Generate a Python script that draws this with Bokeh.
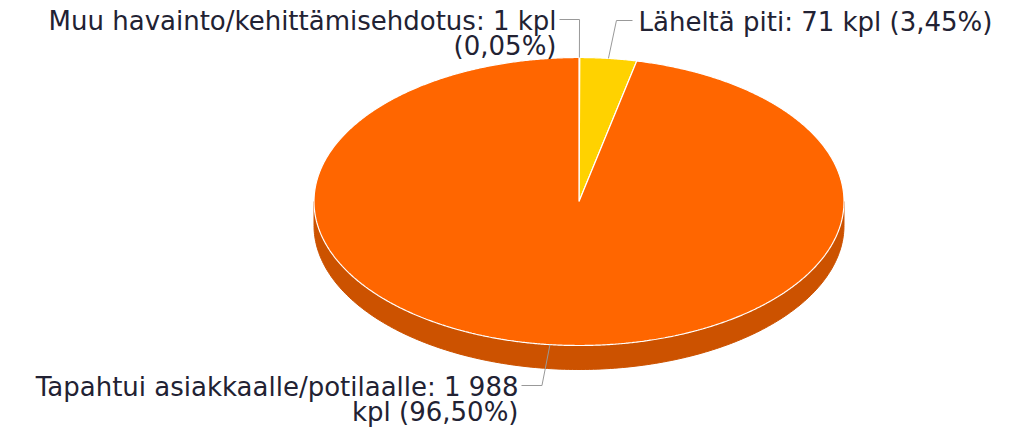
import textwrap
import numpy as np
from bokeh.plotting import figure
from bokeh.models import Range1d, ColumnDataSource
from bokeh.core.properties import value
from bokeh.embed import file_html
from bokeh.resources import INLINE

# ---- data ----
categories = ["Muu havainto/kehittämisehdotus", "Läheltä piti", "Tapahtui asiakkaalle/potilaalle"]
counts = [1, 71, 1988]
top_colors = ["#7CB5EC", "#FFD200", "#FF6600"]
side_colors = ["#6391BD", "#CCA800", "#CC5200"]

# ---- layout / style ----
W, H = 1018, 427
CX, CY, RX, RY, DEPTH = 578.5, 201.0, 265.0, 144.0, 24.0
FONT = "DejaVu Sans"
FSIZE = 26
LINE_H = 25
# label text anchor (x of text edge, vertical middle of first line, alignment)
label_layout = [
    (556, 20, "right"),
    (638, 21, "left"),
    (518, 386, "right"),
]

p = figure(width=W, height=H, x_range=Range1d(0, W), y_range=Range1d(H, 0),
           output_backend="svg", toolbar_location=None, min_border=0,
           x_axis_location=None, y_axis_location=None)
p.grid.visible = False
p.outline_line_color = None
p.background_fill_color = "white"


def pt(theta_deg, dy=0.0):
    t = np.radians(theta_deg)
    return CX + RX * np.sin(t), CY - RY * np.cos(t) + dy


total = float(sum(counts))
fracs = [c / total for c in counts]
ends = np.cumsum(fracs) * 360.0
starts = np.concatenate([[0.0], ends[:-1]])

# ---- side walls (front half only: 90..270 deg) ----
side_xs, side_ys, side_cols = [], [], []
for a, b, col in zip(starts, ends, side_colors):
    lo, hi = max(a, 90.0), min(b, 270.0)
    if hi <= lo:
        continue
    th = np.linspace(lo, hi, 200)
    tx, ty = pt(th)
    bx, by = pt(th[::-1], DEPTH)
    side_xs.append(list(np.concatenate([tx, bx])))
    side_ys.append(list(np.concatenate([ty, by])))
    side_cols.append(col)
p.patches(side_xs, side_ys, fill_color=side_cols, line_color=side_cols, line_width=1)

# ---- top faces ----
top_xs, top_ys = [], []
for a, b in zip(starts, ends):
    n = max(4, int((b - a) * 3))
    th = np.linspace(a, b, n)
    ex, ey = pt(th)
    top_xs.append([CX] + list(ex))
    top_ys.append([CY] + list(ey))
p.patches(top_xs, top_ys, fill_color=top_colors, line_color="white", line_width=1.2)


# ---- labels & connectors ----
def fmt_int(n):
    return f"{n:,}".replace(",", " ")


def fmt_pct(f):
    return f"{f * 100:.2f}".replace(".", ",")


tx_, ty_, tt_, ta_ = [], [], [], []
cxs, cys = [], []
for i, (name, c, f) in enumerate(zip(categories, counts, fracs)):
    label = f"{name}: {fmt_int(c)} kpl ({fmt_pct(f)}%)"
    lines = textwrap.wrap(label, width=38)
    lx, ly, align = label_layout[i]
    for k, line in enumerate(lines):
        tx_.append(lx)
        ty_.append(ly + k * LINE_H)
        tt_.append(line)
        ta_.append(align)
    mid = (starts[i] + ends[i]) / 2.0
    axp, ayp = pt(mid)
    drift = float(np.clip(75 * np.sin(np.radians(mid)), -8, 8))
    elbow_y = ly - 1
    ex = axp + drift
    end_x = lx + (3 if align == "right" else -6)
    cxs.append([axp, ex, end_x])
    cys.append([ayp, elbow_y, elbow_y])

p.multi_line(cxs, cys, line_color="#999999", line_width=1)
src = ColumnDataSource(dict(x=tx_, y=ty_, text=tt_, align=ta_))
p.text(x="x", y="y", text="text", text_align="align", source=src,
       text_baseline="middle", text_font=value(FONT), text_font_size=f"{FSIZE}px",
       text_color="#222233")

open("out.html", "w").write(file_html(p, INLINE))
